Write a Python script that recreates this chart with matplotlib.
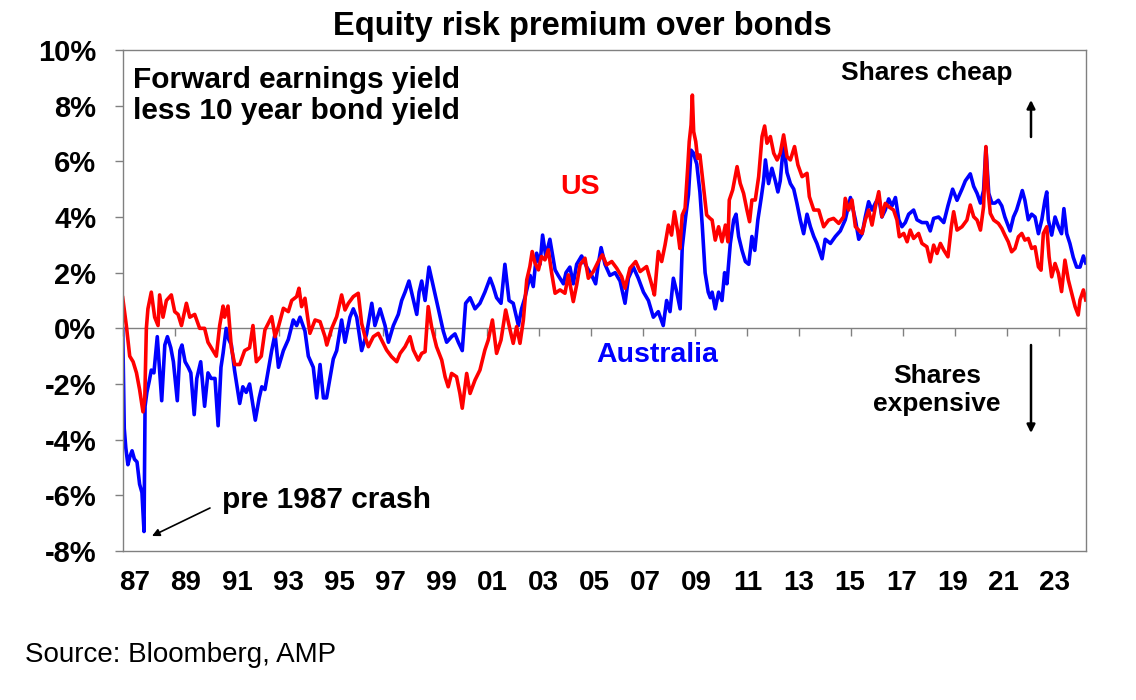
import matplotlib
matplotlib.use("Agg")
import matplotlib.pyplot as plt

# Australia: forward earnings yield less 10y bond yield (%)
au_year = [1987.00, 1987.06, 1987.12, 1987.20, 1987.28, 1987.36, 1987.45, 1987.55, 1987.65, 1987.74,
           1987.82, 1987.86, 1987.93, 1988.02, 1988.10, 1988.20, 1988.33, 1988.42, 1988.50, 1988.62,
           1988.72, 1988.85, 1988.95, 1989.10, 1989.20, 1989.28, 1989.40, 1989.52, 1989.62, 1989.75,
           1989.85, 1990.00, 1990.15, 1990.28, 1990.40, 1990.55, 1990.67, 1990.78, 1990.86, 1990.98,
           1991.08, 1991.18, 1991.30, 1991.50, 1991.62, 1991.75, 1991.88, 1992.10, 1992.25, 1992.35,
           1992.47, 1992.60, 1992.73, 1992.86, 1992.99, 1993.18, 1993.37, 1993.56, 1993.69, 1993.82,
           1994.01, 1994.14, 1994.33, 1994.46, 1994.59, 1994.72, 1994.84, 1994.97, 1995.10, 1995.23,
           1995.42, 1995.55, 1995.74, 1995.87, 1996.00, 1996.19, 1996.38, 1996.58, 1996.70, 1996.90,
           1997.09, 1997.22, 1997.41, 1997.60, 1997.73, 1997.86, 1998.01, 1998.11, 1998.31, 1998.40,
           1998.50, 1998.63, 1998.78, 1998.95, 1999.14, 1999.33, 1999.46, 1999.65, 1999.78, 1999.91,
           2000.06, 2000.19, 2000.36, 2000.55, 2000.74, 2000.93, 2001.13, 2001.25, 2001.38, 2001.55,
           2001.70, 2001.86, 2002.02, 2002.22, 2002.34, 2002.47, 2002.67, 2002.79, 2002.92, 2003.05,
           2003.15, 2003.27, 2003.43, 2003.63, 2003.75, 2003.95, 2004.05, 2004.20, 2004.33, 2004.46,
           2004.65, 2004.85, 2005.04, 2005.19, 2005.29, 2005.40, 2005.55, 2005.74, 2005.94, 2006.13,
           2006.32, 2006.45, 2006.64, 2006.83, 2007.03, 2007.22, 2007.41, 2007.60, 2007.79, 2007.92,
           2008.05, 2008.18, 2008.31, 2008.44, 2008.52, 2008.65, 2008.76, 2008.86, 2008.95, 2009.08,
           2009.20, 2009.29, 2009.40, 2009.52, 2009.60, 2009.67, 2009.79, 2009.92, 2010.05, 2010.15,
           2010.24, 2010.37, 2010.50, 2010.59, 2010.69, 2010.82, 2010.95, 2011.08, 2011.20, 2011.31,
           2011.43, 2011.56, 2011.65, 2011.72, 2011.84, 2011.97, 2012.10, 2012.20, 2012.29, 2012.42,
           2012.55, 2012.68, 2012.81, 2012.93, 2013.06, 2013.19, 2013.32, 2013.45, 2013.58, 2013.70,
           2013.90, 2014.02, 2014.22, 2014.41, 2014.60, 2014.79, 2014.99, 2015.18, 2015.31, 2015.44,
           2015.56, 2015.69, 2015.82, 2015.95, 2016.08, 2016.20, 2016.33, 2016.46, 2016.59, 2016.72,
           2016.85, 2016.97, 2017.10, 2017.23, 2017.42, 2017.55, 2017.74, 2017.93, 2018.06, 2018.19,
           2018.38, 2018.58, 2018.74, 2018.92, 2019.09, 2019.28, 2019.41, 2019.60, 2019.73, 2019.86,
           2019.99, 2020.11, 2020.20, 2020.31, 2020.43, 2020.55, 2020.68, 2020.81, 2020.93, 2021.13,
           2021.26, 2021.38, 2021.51, 2021.60, 2021.70, 2021.83, 2021.96, 2022.09, 2022.22, 2022.35,
           2022.47, 2022.54, 2022.60, 2022.73, 2022.86, 2022.99, 2023.11, 2023.20, 2023.31, 2023.43,
           2023.56, 2023.69, 2023.82, 2023.95, 2024.04]
au_erp = [0.0, -3.6, -4.3, -4.9, -4.6, -4.4, -4.7, -4.8, -5.6, -5.9,
          -7.3, -2.8, -2.3, -1.9, -1.5, -1.6, -0.3, -1.5, -2.6, -0.6,
          -0.3, -0.7, -1.2, -2.6, -0.8, -0.6, -1.2, -1.4, -1.6, -3.1,
          -1.8, -1.2, -2.8, -1.6, -1.8, -1.8, -3.5, -1.4, -0.9, 0.0,
          -0.4, -0.6, -1.5, -2.7, -2.1, -2.3, -2.0, -3.3, -2.5, -2.1,
          -2.2, -1.5, -0.8, -0.2, -1.4, -0.8, -0.4, 0.3, 0.1, 0.4,
          -0.1, -1.0, -1.4, -2.5, -1.3, -2.5, -2.5, -1.8, -1.1, -0.8,
          0.3, -0.5, 0.4, 0.7, 0.4, -0.8, -0.2, 0.9, 0.1, 0.7,
          0.1, -0.5, 0.1, 0.5, 1.0, 1.3, 1.7, 1.3, 0.5, 1.3,
          1.7, 1.0, 2.2, 1.5, 0.7, -0.1, -0.5, -0.3, -0.2, -0.5,
          -0.8, 0.9, 1.1, 0.7, 0.9, 1.3, 1.8, 1.5, 1.1, 0.9,
          2.3, 1.0, 0.9, 0.1, 0.7, 1.1, 1.9, 1.5, 2.7, 2.3,
          3.35, 2.6, 3.2, 2.1, 1.9, 1.6, 2.0, 2.2, 1.6, 2.3,
          2.6, 2.2, 1.9, 1.6, 2.3, 2.9, 2.3, 1.9, 2.0, 1.7,
          0.9, 1.8, 2.2, 1.8, 1.3, 1.0, 0.4, 0.6, 0.1, 1.0,
          0.6, 1.8, 1.3, 0.7, 2.9, 4.0, 4.8, 6.4, 6.3, 5.9,
          4.9, 3.7, 2.0, 1.3, 1.1, 1.3, 0.7, 1.3, 1.0, 2.0,
          1.6, 3.05, 3.9, 4.1, 3.3, 2.8, 2.4, 2.3, 3.3, 2.8,
          3.9, 4.7, 5.3, 6.05, 5.2, 5.75, 5.3, 4.9, 5.3, 6.65,
          5.6, 5.2, 5.0, 4.5, 3.9, 3.4, 4.1, 3.65, 3.3, 3.05,
          2.5, 3.2, 3.05, 3.3, 3.5, 3.9, 4.7, 3.9, 3.2, 3.4,
          4.0, 4.55, 4.25, 4.5, 4.7, 4.0, 4.25, 4.65, 4.4, 4.7,
          3.9, 3.65, 3.8, 4.1, 4.25, 3.9, 3.8, 3.8, 3.5, 3.95,
          4.0, 3.8, 4.4, 5.0, 4.6, 5.0, 5.3, 5.55, 5.1, 4.85,
          4.5, 4.95, 6.5, 4.85, 4.5, 4.5, 4.6, 4.4, 4.0, 3.5,
          4.0, 4.25, 4.65, 4.95, 4.6, 3.9, 4.1, 4.0, 3.4, 3.9,
          4.6, 4.9, 3.9, 3.35, 4.0, 3.65, 3.4, 4.3, 3.4, 3.05,
          2.55, 2.2, 2.2, 2.6, 2.35]

# US: forward earnings yield less 10y bond yield (%)
us_year = [1987.00, 1987.14, 1987.27, 1987.40, 1987.53, 1987.65, 1987.78, 1987.85, 1987.91, 1987.97,
           1988.10, 1988.23, 1988.36, 1988.42, 1988.55, 1988.68, 1988.87, 1989.00, 1989.13, 1989.26,
           1989.45, 1989.58, 1989.77, 1989.96, 1990.15, 1990.28, 1990.47, 1990.60, 1990.73, 1990.86,
           1990.92, 1991.05, 1991.18, 1991.31, 1991.50, 1991.69, 1991.88, 1992.01, 1992.14, 1992.33,
           1992.47, 1992.60, 1992.73, 1992.86, 1992.99, 1993.18, 1993.37, 1993.50, 1993.69, 1993.78,
           1993.88, 1994.01, 1994.20, 1994.40, 1994.59, 1994.78, 1994.85, 1995.04, 1995.23, 1995.42,
           1995.55, 1995.68, 1995.87, 1996.06, 1996.19, 1996.32, 1996.45, 1996.64, 1996.83, 1997.02,
           1997.15, 1997.34, 1997.54, 1997.67, 1997.86, 1998.05, 1998.18, 1998.37, 1998.50, 1998.63,
           1998.75, 1998.88, 1999.07, 1999.27, 1999.40, 1999.52, 1999.65, 1999.84, 1999.97, 2000.06,
           2000.23, 2000.36, 2000.55, 2000.74, 2000.93, 2001.06, 2001.22, 2001.38, 2001.55, 2001.73,
           2001.90, 2002.02, 2002.15, 2002.28, 2002.41, 2002.54, 2002.66, 2002.75, 2002.86, 2002.99,
           2003.11, 2003.24, 2003.37, 2003.50, 2003.63, 2003.82, 2004.01, 2004.14, 2004.33, 2004.46,
           2004.59, 2004.78, 2004.91, 2005.10, 2005.29, 2005.45, 2005.61, 2005.81, 2006.00, 2006.19,
           2006.32, 2006.51, 2006.73, 2006.90, 2007.15, 2007.35, 2007.45, 2007.60, 2007.73, 2007.86,
           2007.99, 2008.11, 2008.22, 2008.35, 2008.43, 2008.52, 2008.63, 2008.73, 2008.79, 2008.86,
           2008.91, 2008.96, 2009.04, 2009.11, 2009.20, 2009.33, 2009.46, 2009.59, 2009.67, 2009.79,
           2009.92, 2010.05, 2010.18, 2010.28, 2010.33, 2010.46, 2010.63, 2010.75, 2010.88, 2011.01,
           2011.11, 2011.20, 2011.33, 2011.46, 2011.59, 2011.69, 2011.78, 2011.91, 2012.04, 2012.17,
           2012.29, 2012.42, 2012.55, 2012.68, 2012.84, 2012.97, 2013.13, 2013.32, 2013.41, 2013.58,
           2013.77, 2013.96, 2014.15, 2014.34, 2014.54, 2014.73, 2014.79, 2014.92, 2015.05, 2015.18,
           2015.37, 2015.44, 2015.56, 2015.69, 2015.82, 2015.95, 2016.08, 2016.20, 2016.33, 2016.46,
           2016.65, 2016.78, 2016.87, 2017.04, 2017.17, 2017.29, 2017.42, 2017.61, 2017.74, 2017.93,
           2018.06, 2018.19, 2018.32, 2018.45, 2018.58, 2018.74, 2018.87, 2018.96, 2019.09, 2019.28,
           2019.47, 2019.60, 2019.73, 2019.86, 2019.99, 2020.11, 2020.20, 2020.28, 2020.37, 2020.50,
           2020.68, 2020.81, 2020.93, 2021.06, 2021.19, 2021.32, 2021.45, 2021.58, 2021.70, 2021.83,
           2021.96, 2022.09, 2022.22, 2022.32, 2022.41, 2022.54, 2022.63, 2022.73, 2022.86, 2022.99,
           2023.11, 2023.24, 2023.37, 2023.50, 2023.63, 2023.75, 2023.82, 2023.95, 2024.04]
us_erp = [1.1, 0.1, -1.0, -1.2, -1.6, -2.2, -3.0, -2.5, 0.0, 0.7,
          1.3, 0.4, 0.1, 1.2, 0.4, 1.0, 1.2, 0.6, 0.5, 0.1,
          0.9, 0.4, 0.5, 0.0, 0.0, -0.5, -0.8, -1.0, 0.1, 0.8,
          0.4, 0.8, -0.7, -1.3, -1.3, -0.8, -0.7, 0.1, -1.2, -1.0,
          -0.06, 0.18, 0.42, -0.3, 0.06, 0.72, 0.6, 1.0, 1.14, 1.44,
          0.78, 1.08, -0.18, 0.3, 0.24, -0.3, -0.6, 0.0, 0.42, 1.2,
          0.66, 0.9, 1.14, 1.26, 0.18, -0.3, -0.66, -0.3, -0.18, -0.54,
          -0.78, -1.02, -1.2, -0.9, -0.66, -0.3, -0.78, -1.14, -0.9, -0.84,
          0.78, 0.06, -0.66, -1.14, -1.74, -2.1, -1.62, -1.74, -2.34, -2.87,
          -1.62, -2.34, -1.86, -1.5, -0.78, -0.42, 0.3, -0.9, -0.42, 0.66,
          -0.06, -0.54, 0.06, -0.54, 0.3, 1.74, 2.22, 2.76, 2.34, 2.1,
          2.58, 2.46, 2.82, 1.98, 1.26, 1.38, 1.26, 1.92, 0.96, 1.56,
          2.28, 2.52, 1.8, 2.04, 2.4, 2.64, 2.28, 2.4, 2.16, 1.86,
          1.44, 2.16, 2.4, 2.04, 2.22, 1.56, 1.2, 2.76, 2.4, 3.0,
          3.71, 3.35, 4.19, 3.47, 2.87, 4.07, 4.31, 5.75, 6.71, 7.31,
          8.38, 7.07, 6.71, 6.11, 6.23, 5.15, 4.07, 3.95, 3.89, 3.17,
          3.65, 3.11, 3.71, 3.11, 4.61, 4.97, 5.81, 5.21, 4.85, 4.25,
          3.83, 4.61, 4.61, 5.45, 6.89, 7.27, 6.65, 6.89, 6.29, 6.05,
          6.29, 6.95, 6.17, 6.05, 6.53, 5.87, 5.45, 5.57, 4.73, 4.25,
          4.25, 3.65, 3.89, 3.95, 3.77, 4.01, 4.67, 4.25, 4.61, 3.65,
          3.47, 3.41, 3.89, 4.25, 3.71, 4.37, 4.91, 4.01, 4.49, 4.37,
          4.25, 3.89, 3.29, 3.41, 3.11, 3.53, 3.23, 3.41, 3.05, 2.93,
          2.39, 2.99, 2.69, 3.05, 2.81, 2.57, 3.65, 4.19, 3.53, 3.65,
          3.89, 4.43, 4.01, 3.89, 3.53, 4.37, 6.53, 4.97, 4.13, 3.89,
          3.77, 3.59, 3.35, 3.11, 2.75, 2.87, 3.29, 3.41, 3.17, 3.23,
          2.87, 2.93, 2.21, 2.09, 3.41, 3.65, 2.57, 1.85, 2.33, 1.97,
          1.32, 2.45, 1.74, 1.26, 0.78, 0.48, 1.02, 1.38, 1.02]

x_tick_years = list(range(1987, 2024, 2))
x_tick_labels = ["87", "89", "91", "93", "95", "97", "99", "01", "03", "05",
                 "07", "09", "11", "13", "15", "17", "19", "21", "23"]
y_ticks = list(range(-8, 11, 2))

W, H = 1136, 700
GREY = "#808080"
plt.rcParams["font.family"] = ["Liberation Sans", "DejaVu Sans"]


def fpos(px, py):
    # pixel position in the picture -> figure fraction
    return px / W, 1 - py / H


fig = plt.figure(figsize=(W / 100, H / 100), dpi=100)
left, right, top, bottom = 122.7, 1086, 50, 551
ax = fig.add_axes([left / W, 1 - bottom / H, (right - left) / W, (bottom - top) / H])

ax.plot(au_year, au_erp, color="#0000FF", lw=2.6, solid_joinstyle="round")
ax.plot(us_year, us_erp, color="#FF0000", lw=2.6, solid_joinstyle="round")

ax.set_xlim(1987.0, 2024.05)
ax.set_ylim(-8, 10)

for sp in ax.spines.values():
    sp.set_color(GREY)
    sp.set_linewidth(1)

ax.set_yticks(y_ticks)
ax.set_yticklabels([f"{v}%" for v in y_ticks])
ax.tick_params(axis="y", direction="out", length=6, width=1, color=GREY, pad=13,
               labelsize=21)

# year labels sit a little right of their tick marks at the left end, as in the source chart
label_pos = [1987 + (12 + 51.1 * i) / 26 for i in range(len(x_tick_labels))]
ax.set_xticks(label_pos)
ax.set_xticklabels(x_tick_labels)
ax.tick_params(axis="x", length=0, pad=14, labelsize=20)
for lab in ax.get_xticklabels() + ax.get_yticklabels():
    lab.set_fontweight("bold")

# zero line with the year tick marks hanging below it
zero_axis = ax.secondary_xaxis(8 / 18)
zero_axis.set_xticks(x_tick_years)
zero_axis.set_xticklabels([])
zero_axis.tick_params(direction="out", length=6, width=1, color=GREY)
zero_axis.spines["bottom"].set_color(GREY)
zero_axis.spines["bottom"].set_linewidth(1)

fig.text(*fpos(582, 26), "Equity risk premium over bonds", ha="center", va="center",
         fontsize=23.5, fontweight="bold")
fig.text(*fpos(133, 80), "Forward earnings yield", ha="left", va="center",
         fontsize=21.5, fontweight="bold")
fig.text(*fpos(133, 111), "less 10 year bond yield", ha="left", va="center",
         fontsize=21.5, fontweight="bold")
fig.text(*fpos(580, 187), "US", ha="center", va="center", fontsize=20.5,
         fontweight="bold", color="#FF0000")
fig.text(*fpos(657, 355), "Australia", ha="center", va="center", fontsize=20.5,
         fontweight="bold", color="#0000FF")
fig.text(*fpos(927, 73), "Shares cheap", ha="center", va="center", fontsize=19,
         fontweight="bold")
fig.text(*fpos(937, 376), "Shares", ha="center", va="center", fontsize=19,
         fontweight="bold")
fig.text(*fpos(937, 404), "expensive", ha="center", va="center", fontsize=19,
         fontweight="bold")
fig.text(*fpos(222, 500), "pre 1987 crash", ha="left", va="center", fontsize=21.5,
         fontweight="bold")
fig.text(*fpos(25, 655), "Source: Bloomberg, AMP", ha="left", va="center", fontsize=20)

arrow = dict(arrowstyle="-|>", lw=1.8, color="black", mutation_scale=12,
             shrinkA=0, shrinkB=0)
fig.add_artist(matplotlib.patches.FancyArrowPatch(fpos(1031, 137), fpos(1031, 100),
                                                  transform=fig.transFigure, **arrow))
fig.add_artist(matplotlib.patches.FancyArrowPatch(fpos(1031, 345), fpos(1031, 433),
                                                  transform=fig.transFigure, **arrow))
fig.add_artist(matplotlib.patches.FancyArrowPatch(fpos(210, 508), fpos(152, 536),
                                                  transform=fig.transFigure,
                                                  arrowstyle="-|>", lw=1.2, color="black",
                                                  mutation_scale=11, shrinkA=0, shrinkB=0))

fig.savefig("out.png", dpi=100)
